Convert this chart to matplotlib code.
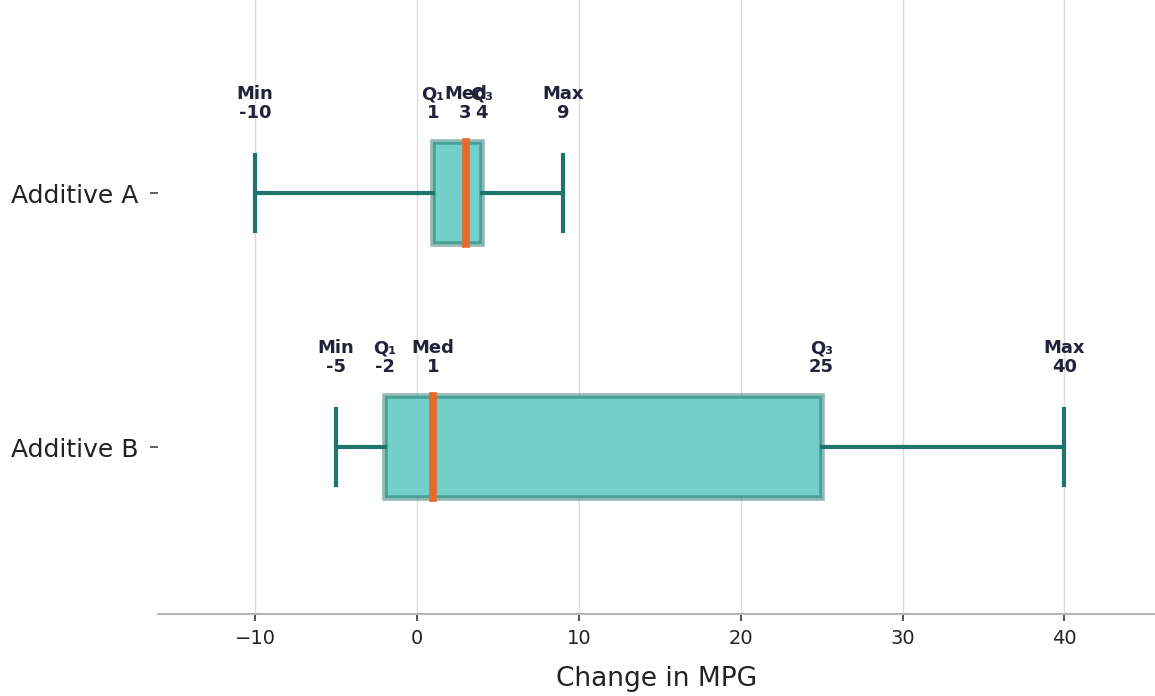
import matplotlib.pyplot as plt

plt.rcParams['font.family'] = ['DejaVu Sans']

# Summary statistics per additive
categories = ['Additive A', 'Additive B']
mins = [-10, -5]
q1s = [1, -2]
medians = [3, 1]
q3s = [4, 25]
maxs = [9, 40]

positions = [1, 0]
text_color = '#22223B'

stats = []
for name, lo, a, m, b, hi in zip(categories, mins, q1s, medians, q3s, maxs):
    stats.append({'label': name, 'whislo': lo, 'q1': a, 'med': m, 'q3': b, 'whishi': hi, 'fliers': []})

fig = plt.figure(figsize=(11.55, 6.96), dpi=100)
ax = fig.add_axes([0.1368, 0.1178, 0.8632, 0.8822])

ax.bxp(stats, positions=positions, vert=False, widths=0.4, capwidths=0.3,
       patch_artist=True, showfliers=False,
       boxprops=dict(facecolor='#72CFC9', edgecolor=(0.12, 0.45, 0.42, 0.5), linewidth=4),
       whiskerprops=dict(color='#1F756C', linewidth=3),
       capprops=dict(color='#1F756C', linewidth=3),
       medianprops=dict(color='#E8692A', linewidth=5.5, solid_capstyle='projecting'))

# Value annotations above each box
for pos, lo, a, m, b, hi in zip(positions, mins, q1s, medians, q3s, maxs):
    for lab, val in zip(['Min', 'Q₁', 'Med', 'Q₃', 'Max'], [lo, a, m, b, hi]):
        ax.text(val, pos + 0.28, f"{lab}\n{val}", ha='center', va='bottom',
                fontsize=13, fontweight='bold', color=text_color, linespacing=1.05)

ax.set_xlim(-16, 45.6)
ax.set_ylim(-0.657, 1.76)
ax.set_yticks(positions)
ax.set_yticklabels(categories, fontsize=18)
ax.set_xticks([-10, 0, 10, 20, 30, 40])
ax.tick_params(axis='x', labelsize=14, length=5, width=1.2, pad=6, colors='#333333', labelcolor='#222222')
ax.tick_params(axis='y', length=6, width=1.2, pad=8, colors='#444444', labelcolor='#222222')
ax.set_xlabel('Change in MPG', fontsize=19, color='#222222', labelpad=13)

ax.grid(axis='x', color='#dddddd', linewidth=1)
ax.set_axisbelow(True)
for s in ['top', 'right', 'left']:
    ax.spines[s].set_visible(False)
ax.spines['bottom'].set_color('#b5b5b5')
ax.spines['bottom'].set_linewidth(1.5)

fig.savefig('out.png', dpi=100)
